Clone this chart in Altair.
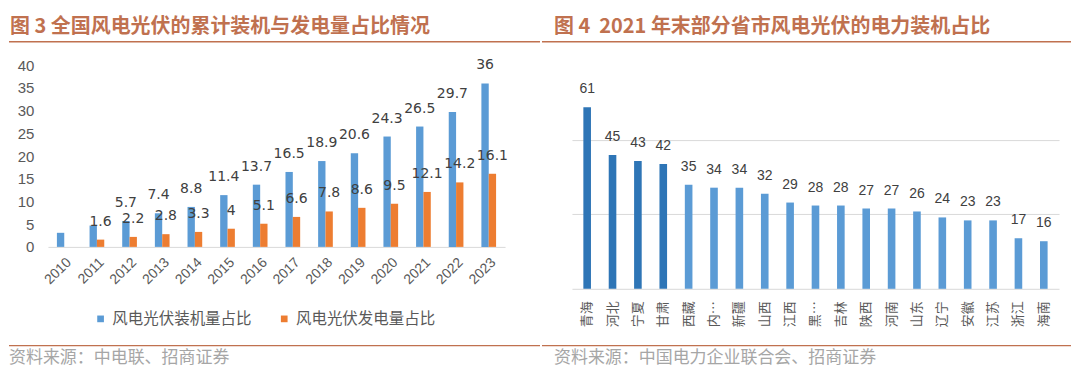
import altair as alt
import pandas as pd

# ---------------- data ----------------
years = ["2010", "2011", "2012", "2013", "2014", "2015", "2016",
         "2017", "2018", "2019", "2020", "2021", "2022", "2023"]
install_share = [3.1, 4.7, 5.7, 7.4, 8.8, 11.4, 13.7, 16.5, 18.9, 20.6, 24.3, 26.5, 29.7, 36]
install_label = [None, None, "5.7", "7.4", "8.8", "11.4", "13.7", "16.5", "18.9", "20.6",
                 "24.3", "26.5", "29.7", "36"]
gen_share = [None, 1.6, 2.2, 2.8, 3.3, 4, 5.1, 6.6, 7.8, 8.6, 9.5, 12.1, 14.2, 16.1]
gen_label = [None, "1.6", "2.2", "2.8", "3.3", "4", "5.1", "6.6", "7.8", "8.6",
             "9.5", "12.1", "14.2", "16.1"]
series_names = ["风电光伏装机量占比", "风电光伏发电量占比"]
y_ticks_left = [0, 5, 10, 15, 20, 25, 30, 35, 40]

provinces = ["青海", "河北", "宁夏", "甘肃", "西藏", "内蒙古", "新疆", "山西", "江西",
             "黑龙江", "吉林", "陕西", "河南", "山东", "辽宁", "安徽", "江苏", "浙江", "海南"]
prov_share = [61, 45, 43, 42, 35, 34, 34, 32, 29, 28, 28, 27, 27, 26, 24, 23, 23, 17, 16]
prov_group = ["top"] * 4 + ["rest"] * 15
grid_right = [25, 50]

title_left = "图 3 全国风电光伏的累计装机与发电量占比情况"
title_right = "图 4\u00a0 2021 年末部分省市风电光伏的电力装机占比"
source_left = "资料来源：中电联、招商证券"
source_right = "资料来源：中国电力企业联合会、招商证券"

# ---------------- styles ----------------
CJK = "Noto Sans CJK SC"
SANS = "Liberation Sans"
BROWN = "#C0714F"
GRAY_TXT = "#595959"
SRC_GRAY = "#A6A6A6"
BLUE = "#5B9BD5"
DBLUE = "#2E75B6"
ORANGE = "#ED7D31"

rows = []
for i, y in enumerate(years):
    rows.append({"year": y, "series": series_names[0], "value": install_share[i], "label": install_label[i]})
    rows.append({"year": y, "series": series_names[1], "value": gen_share[i], "label": gen_label[i]})
df_left = pd.DataFrame(rows)
df_left_bars = df_left.dropna(subset=["value"])
df_left_labels = df_left.dropna(subset=["label"])

df_right = pd.DataFrame({"prov": provinces, "share": prov_share, "grp": prov_group})


def deco_text(text, x, y, size, color, weight="normal", font=CJK):
    return alt.Chart(pd.DataFrame({"t": [text]})).mark_text(
        align="left", baseline="middle", fontSize=size, font=font,
        fontWeight=weight, color=color
    ).encode(x=alt.value(x), y=alt.value(y), text="t:N")


def deco_rule(x1, x2, y, color, width):
    return alt.Chart(pd.DataFrame({"a": [0]})).mark_rule(
        color=color, strokeWidth=width
    ).encode(x=alt.value(x1), x2=alt.value(x2), y=alt.value(y))


# ---------------- left panel (view origin at page 47, 8) ----------------
LW, LH = 458, 239
lx = lambda px: px - 47
ly = lambda py: py - 8

x_left = alt.X("year:N", sort=years, title=None,
               scale=alt.Scale(paddingInner=0.55, paddingOuter=0.275),
               axis=alt.Axis(labelAngle=315, labelFontSize=14, labelFont=SANS,
                             labelColor=GRAY_TXT, ticks=False, domainColor="#D9D9D9",
                             labelPadding=8))
y_left = alt.Y("value:Q", title=None,
               scale=alt.Scale(domain=[0, 40 * LH / 182], nice=False),
               axis=alt.Axis(values=y_ticks_left, grid=False,
                             domain=False, ticks=False, labelFontSize=15, labelFont=SANS,
                             labelColor=GRAY_TXT, labelPadding=14, labelOverlap=False,
                             labelSeparation=0))
xo_left = alt.XOffset("series:N", sort=series_names)

bars_left = alt.Chart(df_left_bars).mark_bar().encode(
    x=x_left, y=y_left, xOffset=xo_left,
    color=alt.Color("series:N", sort=series_names,
                    scale=alt.Scale(domain=series_names, range=[BLUE, ORANGE]),
                    legend=alt.Legend(orient="none", legendX=lx(92), legendY=ly(311),
                                      direction="horizontal", title=None,
                                      symbolType="square", symbolSize=45,
                                      symbolStrokeWidth=0, labelFontSize=15.5,
                                      labelFont=CJK, labelColor=GRAY_TXT,
                                      columnPadding=24, labelOffset=4)),
)
labels_left = alt.Chart(df_left_labels).mark_text(
    dy=-18, baseline="middle", fontSize=14, font="DejaVu Sans", color="#404040"
).encode(x=x_left, y=y_left, xOffset=xo_left, text="label:N")

left = alt.layer(
    bars_left, labels_left,
    deco_text(title_left, lx(9), ly(26.5), 20, BROWN, weight="bold"),
    deco_rule(lx(8), lx(540), ly(41.5), BROWN, 1.5),
    deco_rule(lx(8), lx(540), ly(346), BROWN, 1.2),
    deco_text(source_left, lx(8), ly(358), 17, SRC_GRAY),
    deco_rule(lx(8), lx(20), ly(367), "white", 1),
).properties(width=LW, height=LH)

# ---------------- right panel (view origin at page 570, 8) ----------------
RW, RH = 488, 281
rx = lambda px: px - 570
ry = lambda py: py - 8

x_right = alt.X("prov:N", sort=provinces, title=None,
                scale=alt.Scale(paddingInner=0.7, paddingOuter=0.45),
                axis=alt.Axis(labelAngle=270, labelFontSize=13, labelFont=CJK,
                              labelColor=GRAY_TXT, ticks=False, domainColor="#D9D9D9",
                              labelPadding=12, labelLimit=28))
y_right = alt.Y("share:Q", title=None,
                scale=alt.Scale(domain=[0, RH / 2.98], nice=False),
                axis=alt.Axis(values=grid_right, grid=True, gridColor="#D9D9D9",
                              labels=False, domain=False, ticks=False))

bars_right = alt.Chart(df_right).mark_bar().encode(
    x=x_right, y=y_right,
    color=alt.Color("grp:N", scale=alt.Scale(domain=["top", "rest"], range=[DBLUE, BLUE]),
                    legend=None),
)
labels_right = alt.Chart(df_right).mark_text(
    dy=-18, baseline="middle", fontSize=14, font=SANS, color="#404040"
).encode(x=x_right, y=y_right, text="share:Q")

right = alt.layer(
    bars_right, labels_right,
    deco_text(title_right, rx(552), ry(26.5), 20, BROWN, weight="bold"),
    deco_rule(rx(540), rx(1070), ry(41.5), BROWN, 1.5),
    deco_rule(rx(540), rx(1070), ry(346), BROWN, 1.2),
    deco_text(source_right, rx(552), ry(358), 17, SRC_GRAY),
).properties(width=RW, height=RH)

chart = alt.hconcat(left, right, spacing=0).resolve_scale(
    color="independent", x="independent", y="independent"
).properties(
    padding=0, background="white"
).configure_view(stroke=None)

chart.save("out.html", embed_options={"renderer": "svg", "actions": False})
